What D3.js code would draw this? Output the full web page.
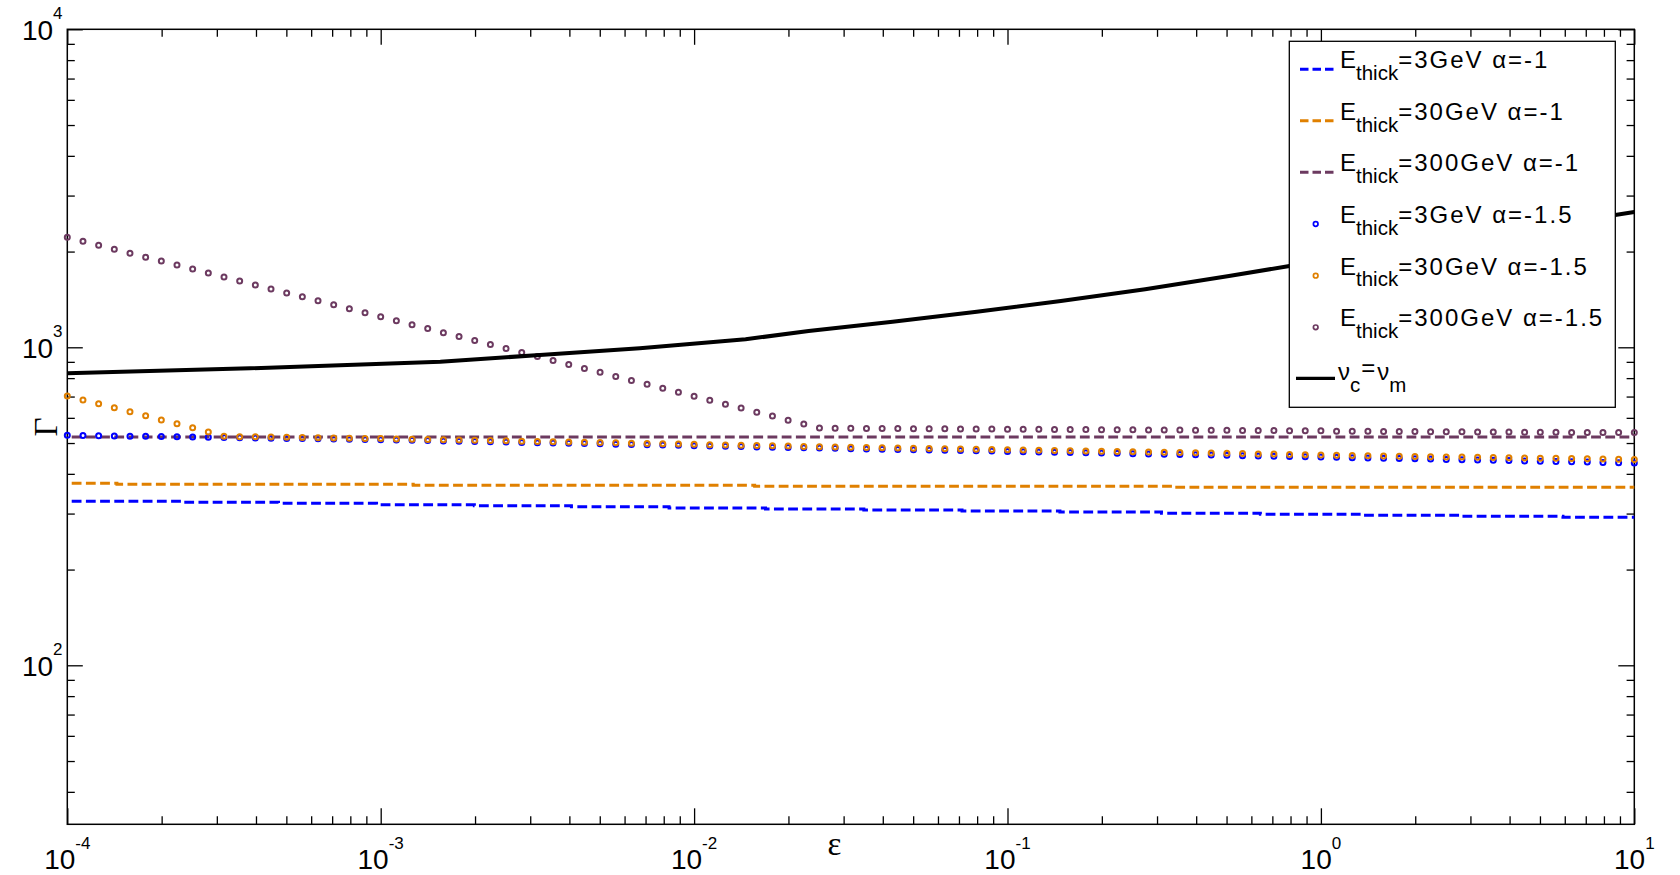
<!DOCTYPE html>
<html>
<head>
<meta charset="utf-8">
<script src="https://cdn.jsdelivr.net/npm/d3@7"></script>
<style>
  body { margin: 0; background: #fff; }
  svg { display: block; }
  text { font-family: "Liberation Sans", Arial, sans-serif; fill: #000; }
</style>
</head>
<body>
<svg id="chart" width="1680" height="875"></svg>
<script>
// epsilon grid of the circle series (log10 of epsilon)
const logEps = [
  -4.00,-3.95,-3.90,-3.85,-3.80,-3.75,-3.70,-3.65,-3.60,-3.55,
  -3.50,-3.45,-3.40,-3.35,-3.30,-3.25,-3.20,-3.15,-3.10,-3.05,
  -3.00,-2.95,-2.90,-2.85,-2.80,-2.75,-2.70,-2.65,-2.60,-2.55,
  -2.50,-2.45,-2.40,-2.35,-2.30,-2.25,-2.20,-2.15,-2.10,-2.05,
  -2.00,-1.95,-1.90,-1.85,-1.80,-1.75,-1.70,-1.65,-1.60,-1.55,
  -1.50,-1.45,-1.40,-1.35,-1.30,-1.25,-1.20,-1.15,-1.10,-1.05,
  -1.00,-0.95,-0.90,-0.85,-0.80,-0.75,-0.70,-0.65,-0.60,-0.55,
  -0.50,-0.45,-0.40,-0.35,-0.30,-0.25,-0.20,-0.15,-0.10,-0.05,
   0.00, 0.05, 0.10, 0.15, 0.20, 0.25, 0.30, 0.35, 0.40, 0.45,
   0.50, 0.55, 0.60, 0.65, 0.70, 0.75, 0.80, 0.85, 0.90, 0.95,
   1.00
];

// Gamma, alpha=-1.5 (circles)
const g3a15 = [
  529.0,528.2,527.3,526.5,525.6,524.8,523.9,523.1,522.2,521.4,
  520.5,519.7,518.8,518.0,517.1,516.3,515.4,514.6,513.7,512.9,
  512.0,510.9,509.9,508.8,507.7,506.6,505.6,504.5,503.4,502.3,
  501.3,500.2,499.1,498.0,497.0,495.9,494.8,493.7,492.7,491.6,
  490.5,489.4,488.4,487.3,486.2,485.1,484.1,483.0,482.0,481.1,
  480.1,479.2,478.2,477.3,476.3,475.4,474.4,473.5,472.5,471.6,
  470.6,469.7,468.7,467.8,466.8,465.9,464.9,464.0,463.0,462.1,
  461.1,460.2,459.2,458.3,457.3,456.4,455.4,454.5,453.5,452.6,
  451.6,450.7,449.7,448.8,447.8,446.9,445.9,445.0,444.0,443.1,
  442.1,441.2,440.2,439.3,438.3,437.4,436.4,435.5,434.5,433.6,
  432.6
];
const g30a15 = [
  703,683,664,645,627,609,591,575,558,542,
  525.0,523.7,522.8,522.1,521.2,520.4,519.5,518.8,517.9,517.1,
  516.3,515.2,514.2,513.1,512.1,511.0,510.0,508.9,507.9,506.8,
  505.8,504.8,503.7,502.6,501.6,500.6,499.5,498.4,497.5,496.4,
  495.3,494.2,493.3,492.2,491.1,490.0,489.1,488.0,487.1,486.2,
  485.3,484.5,483.5,482.7,481.7,480.9,480.0,479.1,478.2,477.4,
  476.4,475.6,474.7,473.8,472.9,472.0,471.1,470.3,469.3,468.5,
  467.6,466.7,465.8,464.9,464.0,463.2,462.2,461.4,460.5,459.6,
  458.7,457.8,456.9,456.1,455.1,454.3,453.6,453.0,452.2,451.6,
  450.9,450.2,449.5,448.9,448.2,447.5,446.8,446.2,445.5,444.8,
  444.1
];
const g300a15 = [
  2218,2155,2094,2035,1977,1921,1867,1814,1762,1712,
  1664,1616,1570,1526,1483,1441,1400,1360,1322,1284,
  1248,1212,1178,1145,1112,1081,1050,1020,991,963,
  936,909,883,858,834,810,787,765,743,722,
  702,682,662,644,625,608,590,574,557,556,
  556,555,555,555,554,554,554,553,553,553,
  552,552,552,551,551,551,550,550,550,549,
  549,549,548,548,548,547,547,547,546,546,
  546,545,545,545,544,544,544,543,543,543,
  542,542,542,541,541,541,540,540,540,540,
  540
];

// Gamma, alpha=-1 (dashed step lines)
const lineEps3 = [1e-4,2.32e-4,4.72e-4,9.70e-4,1.99e-3,4.06e-3,8.32e-3,1.69e-2,3.48e-2,7.16e-2,0.147,0.310,0.641,1.34,2.81,5.92,10];
const lineG3   = [328.0,325.6,323.3,319.9,317.4,315.1,312.6,310.1,307.9,305.6,303.4,300.6,298.4,296.3,294.2,292.0,292.0];
const lineEps30 = [1e-4,1.44e-4,1.27e-3,1.56e-2,0.342,10];
const lineG30   = [373.5,370.8,368.1,365.5,362.8,362.8];
const lineEps300 = [1e-4,10];
const lineG300   = [522,522];

// nu_c = nu_m curve
const vcEps = [1e-4,3.83e-4,1.55e-3,3.22e-3,6.71e-3,1.46e-2,2.32e-2,4.30e-2,7.98e-2,0.148,0.275,0.509,0.794,10];
const vcG   = [828,859,901,946,993,1060,1125,1204,1294,1398,1522,1676,1802,2665];

const xMajor = [1e-4,1e-3,1e-2,1e-1,1,10];
const xExp = ["-4","-3","-2","-1","0","1"];
const yMajor = [1e2,1e3,1e4];
const yExp = ["2","3","4"];

const cBlue = "#0000ff", cOrange = "#e08000", cPurple = "#6c3a60";

const svg = d3.select("#chart");
const L = 67.3, R = 1634.3, T = 29.3, B = 824.3;

let x = d3.scaleLog().domain([1e-4, 10]).range([L, R]);
let y = d3.scaleLog().domain([Math.pow(10, 1.5), 1e4]).range([B, T]);

// minor tick positions
let xMinor = [];
for (let d = -4; d < 1; d++) for (let k = 2; k < 10; k++) xMinor.push(k * Math.pow(10, d));
let yMinor = [40,50,60,70,80,90];
for (let d = 2; d < 4; d++) for (let k = 2; k < 10; k++) yMinor.push(k * Math.pow(10, d));

function ticks(axis, vals, size, tr) {
  let g = svg.append("g").attr("transform", tr)
    .call(axis.tickValues(vals).tickSize(-size).tickSizeOuter(0).tickFormat(""));
  g.select(".domain").remove();
  g.selectAll("line").attr("stroke", "#000").attr("stroke-width", 1.3);
}
ticks(d3.axisBottom(x), xMajor, 16, "translate(0," + B + ")");
ticks(d3.axisBottom(x), xMinor, 8, "translate(0," + B + ")");
ticks(d3.axisTop(x), xMajor, 15.5, "translate(0," + T + ")");
ticks(d3.axisTop(x), xMinor, 7.5, "translate(0," + T + ")");
ticks(d3.axisLeft(y), yMajor, 15.5, "translate(" + L + ",0)");
ticks(d3.axisLeft(y), yMinor, 7.5, "translate(" + L + ",0)");
ticks(d3.axisRight(y), yMajor, 16, "translate(" + R + ",0)");
ticks(d3.axisRight(y), yMinor, 7.7, "translate(" + R + ",0)");

svg.append("rect")
  .attr("x", L).attr("y", T).attr("width", R - L).attr("height", B - T)
  .attr("fill", "none").attr("stroke", "#000").attr("stroke-width", 1.5);

// tick labels: 10 with superscript exponent
xMajor.forEach(function(v, i) {
  let t = svg.append("text")
    .attr("x", x(v)).attr("y", 868.5)
    .attr("text-anchor", "middle")
    .style("font-size", "28px");
  t.append("tspan").text("10");
  t.append("tspan").attr("dy", -20).style("font-size", "17px").text(xExp[i]);
});
yMajor.forEach(function(v, i) {
  let t = svg.append("text")
    .attr("x", 62.5).attr("y", y(v) + 11)
    .attr("text-anchor", "end")
    .style("font-size", "28px");
  t.append("tspan").text("10");
  t.append("tspan").attr("dy", -21.6).style("font-size", "17px").text(yExp[i]);
});

// axis titles
svg.append("text")
  .attr("x", 834.5).attr("y", 855)
  .attr("text-anchor", "middle")
  .style("font-family", "'Liberation Serif', 'DejaVu Serif', serif")
  .style("font-size", "33px")
  .text("ε");
svg.append("text")
  .attr("transform", "translate(57,427) rotate(-90)")
  .attr("text-anchor", "middle")
  .style("font-family", "'Liberation Serif', 'DejaVu Serif', serif")
  .style("font-size", "33px")
  .text("Γ");

// dashed lines
let stepLine = d3.line()
  .x(function(d) { return x(d[0]); })
  .y(function(d) { return y(d[1]); })
  .curve(d3.curveStepAfter);

function dashed(eps, gam, color) {
  svg.append("path")
    .datum(eps.map(function(e, i) { return [e, gam[i]]; }))
    .attr("d", stepLine)
    .attr("fill", "none")
    .attr("stroke", color)
    .attr("stroke-width", 3)
    .attr("stroke-dasharray", "9.8,4.4")
    .attr("stroke-dashoffset", 9.8);
}
dashed(lineEps3, lineG3, cBlue);
dashed(lineEps30, lineG30, cOrange);
dashed(lineEps300, lineG300, cPurple);

// circles
function dots(vals, color) {
  svg.append("g").selectAll("circle")
    .data(logEps.map(function(l, i) { return [Math.pow(10, l), vals[i]]; }))
    .enter().append("circle")
    .attr("cx", function(d) { return x(d[0]); })
    .attr("cy", function(d) { return y(d[1]); })
    .attr("r", 2.5)
    .attr("fill", "none")
    .attr("stroke", color)
    .attr("stroke-width", 2);
}
dots(g3a15, cBlue);
dots(g30a15, cOrange);
dots(g300a15, cPurple);

// nu_c = nu_m
svg.append("path")
  .datum(vcEps.map(function(e, i) { return [e, vcG[i]]; }))
  .attr("d", d3.line().x(function(d) { return x(d[0]); }).y(function(d) { return y(d[1]); }))
  .attr("fill", "none")
  .attr("stroke", "#000")
  .attr("stroke-width", 4);

// legend
const legLabels = [
  ["3GeV", "-1"], ["30GeV", "-1"], ["300GeV", "-1"],
  ["3GeV", "-1.5"], ["30GeV", "-1.5"], ["300GeV", "-1.5"]
];
const legColors = [cBlue, cOrange, cPurple, cBlue, cOrange, cPurple];
const legY = [69.3, 120.8, 172.3, 224, 275.7, 327.3, 378.3];

let leg = svg.append("g");
leg.append("rect")
  .attr("x", 1289.3).attr("y", 41.3).attr("width", 326).attr("height", 366)
  .attr("fill", "#fff").attr("stroke", "#000").attr("stroke-width", 1.3);

legLabels.forEach(function(lab, i) {
  let yy = legY[i];
  if (i < 3) {
    leg.append("line")
      .attr("x1", 1300).attr("x2", 1335).attr("y1", yy).attr("y2", yy)
      .attr("stroke", legColors[i]).attr("stroke-width", 3)
      .attr("stroke-dasharray", "8.5,4");
  } else {
    leg.append("circle")
      .attr("cx", 1315.7).attr("cy", yy).attr("r", 2.3)
      .attr("fill", "none").attr("stroke", legColors[i]).attr("stroke-width", 1.7);
  }
  let t = leg.append("text").attr("x", 1340).attr("y", yy - 1).style("font-size", "24px");
  t.append("tspan").text("E");
  t.append("tspan").attr("dy", 11.7).style("font-size", "20.5px").text("thick");
  t.append("tspan").attr("dy", -11.7).style("letter-spacing", "2px")
    .text("=" + lab[0] + " α=" + lab[1]);
});

leg.append("line")
  .attr("x1", 1296).attr("x2", 1335).attr("y1", legY[6]).attr("y2", legY[6])
  .attr("stroke", "#000").attr("stroke-width", 3.3);
let tv = leg.append("text").attr("x", 1338).attr("y", legY[6] + 1.7).style("font-size", "24px");
tv.append("tspan").text("ν");
tv.append("tspan").attr("dy", 11.7).style("font-size", "20.5px").text("c");
tv.append("tspan").attr("dy", -15.7).attr("dx", 1).text("=");
tv.append("tspan").attr("dy", 4).attr("dx", 2).text("ν");
tv.append("tspan").attr("dy", 11.7).style("font-size", "20.5px").text("m");
</script>
</body>
</html>
